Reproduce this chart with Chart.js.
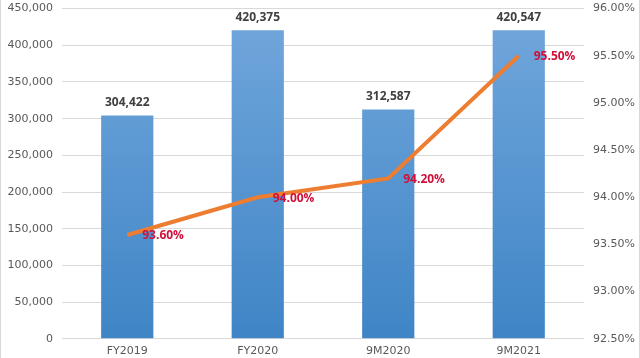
<!DOCTYPE html>
<html>
<head>
<meta charset="utf-8">
<script src="https://cdn.jsdelivr.net/npm/chart.js@4"></script>
<style>
    html, body { margin: 0; padding: 0; overflow: hidden; background: #fff; }
    #wrap { position: relative; width: 638px; height: 371px; margin-top: -7px; border-left: 1px solid #d9d9d9; border-right: 1px solid #d9d9d9; }
</style>
</head>
<body>
<div id="wrap"><canvas id="myChart"></canvas></div>
<script>
const periodos = ['FY2019', 'FY2020', '9M2020', '9M2021'];
const valores = [304422, 420375, 312587, 420547];
const percentuais = [93.6, 94.0, 94.2, 95.5];

function gradienteBarra(context) {
    const chart = context.chart;
    const area = chart.chartArea;
    if (!area) {
        return '#5b9bd5';
    }
    let g = chart.ctx.createLinearGradient(0, area.top, 0, area.bottom);
    g.addColorStop(0, '#72a7dc');
    g.addColorStop(1, '#3f85c6');
    return g;
}

// desenha os rótulos de valor (sem plugin externo)
const rotulos = {
    id: 'rotulos',
    afterDatasetsDraw(chart) {
        const ctx = chart.ctx;
        ctx.save();
        // dataset 1 = barras
        chart.getDatasetMeta(1).data.forEach(function(bar, i) {
            ctx.font = 'bold 12px "Open Sans"';
            ctx.fillStyle = '#404040';
            ctx.textAlign = 'center';
            ctx.textBaseline = 'middle';
            ctx.fillText(valores[i].toLocaleString('en-US'), bar.x, bar.y - 13);
        });
        // dataset 0 = linha
        chart.getDatasetMeta(0).data.forEach(function(pt, i) {
            ctx.font = 'bold 12px "Open Sans"';
            ctx.fillStyle = '#d0103a';
            ctx.textAlign = 'left';
            ctx.textBaseline = 'middle';
            ctx.fillText(percentuais[i].toFixed(2) + '%', pt.x + 15, pt.y + 1);
        });
        ctx.restore();
    }
};

let ctx = document.getElementById('myChart').getContext('2d');
new Chart(ctx, {
    data: {
        labels: periodos,
        datasets: [
            {
                type: 'line',
                data: percentuais,
                yAxisID: 'y2',
                borderColor: '#ed7d31',
                borderWidth: 4,
                pointRadius: 0,
                tension: 0,
                fill: false,
                order: 0
            }, {
                type: 'bar',
                data: valores,
                yAxisID: 'y',
                backgroundColor: gradienteBarra,
                categoryPercentage: 1.0,
                barPercentage: 0.4,
                order: 1
            }
        ]
    },
    options: {
        responsive: true,
        maintainAspectRatio: false,
        animation: false,
        layout: { padding: { top: 1, left: 0, right: 0, bottom: 0 } },
        plugins: {
            legend: { display: false },
            tooltip: { enabled: false }
        },
        scales: {
            x: {
                grid: { display: false, drawTicks: false },
                border: { display: false },
                ticks: { color: '#595959', font: { family: 'DejaVu Sans', size: 11 }, padding: 6 }
            },
            y: {
                position: 'left',
                min: 0,
                max: 450000,
                afterFit: function(scale) { scale.width = 61; },
                ticks: {
                    stepSize: 50000,
                    color: '#595959',
                    padding: 9,
                    font: { family: 'DejaVu Sans', size: 11 },
                    callback: function(v) { return v.toLocaleString('en-US'); }
                },
                grid: { color: '#d9d9d9', drawTicks: false },
                border: { display: false }
            },
            y2: {
                position: 'right',
                min: 92.5,
                max: 96,
                afterFit: function(scale) { scale.width = 55; },
                ticks: {
                    stepSize: 0.5,
                    color: '#595959',
                    padding: 9,
                    font: { family: 'DejaVu Sans', size: 11 },
                    callback: function(v) { return v.toFixed(2) + '%'; }
                },
                grid: { display: false, drawTicks: false },
                border: { display: false }
            }
        }
    },
    plugins: [rotulos]
});
</script>
</body>
</html>
